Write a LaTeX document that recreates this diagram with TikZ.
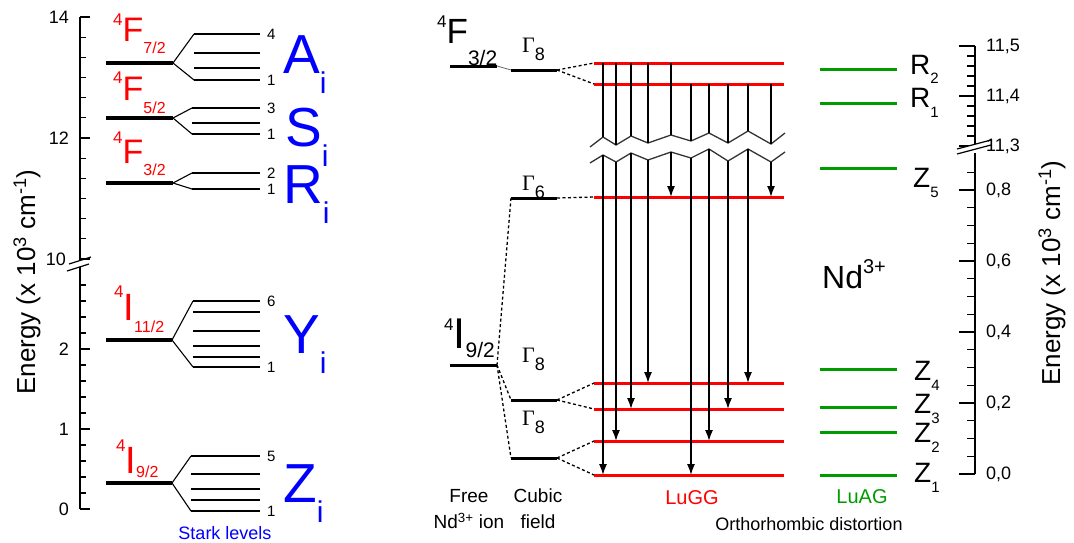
\documentclass[tikz,border=0pt]{standalone}
\usepackage{fontspec}
\setmainfont{Liberation Sans}
\newfontfamily\seriffont{Liberation Serif}
\usetikzlibrary{arrows.meta}
\definecolor{myred}{RGB}{255,0,0}
\definecolor{myblue}{RGB}{0,0,255}
\definecolor{mygreen}{RGB}{0,155,0}
\newcommand\fs[1]{\fontsize{#1}{#1}\selectfont}
\newcommand\gam[1]{{\seriffont\fs{22}Γ}\raisebox{-8pt}{\fs{18}#1}}
\begin{document}
\begin{tikzpicture}[x=1pt,y=-1pt,
  every node/.style={inner sep=0pt},
  axisline/.style={line width=1.5pt},
  tickmark/.style={line width=1.3pt},
  biglevel/.style={line width=4.5pt},
  level/.style={line width=3pt},
  sublevel/.style={line width=1.4pt},
  fanline/.style={line width=1.1pt},
  redlevel/.style={line width=3pt, myred},
  greenlevel/.style={line width=3pt, mygreen},
  dotline/.style={line width=1.3pt, dash pattern=on 3pt off 2.5pt},
  trans/.style={line width=1.4pt, -{Latex[length=11pt,width=8pt]}},
  zig/.style={line width=1.3pt, black!80},
  ticklab/.style={font=\fs{18}},
  numlab/.style={font=\fs{15}, anchor=west},
  redterm/.style={text=myred, anchor=base west},
  bluelet/.style={text=myblue, anchor=base west, font=\fs{55}},
  greenlab/.style={anchor=base west, font=\fs{28}}]
\useasboundingbox (0,0) rectangle (1074,542);

%% ---------------- left axis ----------------
\draw[axisline] (80,17) -- (80,260);
\draw[axisline] (80,267) -- (80,509);
\foreach \i in {0,...,12} \draw[tickmark] (80,{17+\i*20.1667}) -- ++(6,0);
\foreach \i in {0,6,12} \draw[tickmark] (80,{17+\i*20.1667}) -- ++(10,0);
\foreach \i in {0,...,14} \draw[tickmark] (80,{509-\i*16}) -- ++(6,0);
\foreach \i in {0,5,10} \draw[tickmark] (80,{509-\i*16}) -- ++(10,0);
\draw[line width=1.2pt] (69,264) -- (91,257);
\draw[line width=1.2pt] (67,271) -- (89,264);
\node[ticklab, anchor=east] (t14) at (69,17) {14};
\node[ticklab, anchor=east] (t12) at (69,138) {12};
\node[ticklab, anchor=east] (t10) at (66,259) {10};
\node[ticklab, anchor=east] (t2) at (69,349) {2};
\node[ticklab, anchor=east] (t1) at (69,429) {1};
\node[ticklab, anchor=east] (t0) at (69,509) {0};
\node[rotate=90, font=\fs{26}] (elab) at (27,282) {Energy (x 10\textsuperscript{3} cm\textsuperscript{-1})};

%% ---------------- left levels ----------------
% 4F7/2
\coordinate (F7) at (173,63);
\draw[biglevel] (106,63) -- (F7);
\coordinate (F7a) at (194,34); \coordinate (F7b) at (194,80);
\foreach \y in {34,53,68,80} \draw[sublevel] (194,\y) -- (260,\y);
\draw[fanline] (F7) -- (F7a); \draw[fanline] (F7) -- (F7b);
\node[numlab] (n74) at (267,34) {4};
\node[numlab] (n71) at (267,80) {1};
% 4F5/2
\coordinate (F5) at (173,118);
\draw[biglevel] (106,118) -- (F5);
\coordinate (F5a) at (192,108); \coordinate (F5b) at (192,134);
\foreach \y in {108,123,134} \draw[sublevel] (192,\y) -- (260,\y);
\draw[fanline] (F5) -- (F5a); \draw[fanline] (F5) -- (F5b);
\node[numlab] (n53) at (267,108) {3};
\node[numlab] (n51) at (267,134) {1};
% 4F3/2
\coordinate (F3) at (173,183);
\draw[biglevel] (106,183) -- (F3);
\coordinate (F3a) at (192,173); \coordinate (F3b) at (192,189);
\foreach \y in {173,189} \draw[sublevel] (192,\y) -- (260,\y);
\draw[fanline] (F3) -- (F3a); \draw[fanline] (F3) -- (F3b);
\node[numlab] (n32) at (267,173) {2};
\node[numlab] (n31) at (267,189) {1};
% 4I11/2
\coordinate (I11) at (172,340);
\draw[biglevel] (106,340) -- (I11);
\coordinate (I11a) at (193,301); \coordinate (I11b) at (193,367);
\foreach \y in {301,312,331,346,357,367} \draw[sublevel] (193,\y) -- (260,\y);
\draw[fanline] (I11) -- (I11a); \draw[fanline] (I11) -- (I11b);
\node[numlab] (n116) at (267,301) {6};
\node[numlab] (n111) at (267,367) {1};
% 4I9/2
\coordinate (I9) at (172,483);
\draw[biglevel] (106,483) -- (I9);
\coordinate (I9a) at (191,456); \coordinate (I9b) at (191,511);
\foreach \y in {456,474,489,500,511} \draw[sublevel] (191,\y) -- (260,\y);
\draw[fanline] (I9) -- (I9a); \draw[fanline] (I9) -- (I9b);
\node[numlab] (n95) at (267,456) {5};
\node[numlab] (n91) at (267,511) {1};

% red term labels
\node[redterm] (lF7) at (113,41) {\fs{17}\raisebox{16pt}{4}\fs{34}F\fs{16}\raisebox{-12pt}{7/2}};
\node[redterm] (lF5) at (113,100) {\fs{17}\raisebox{17pt}{4}\fs{34}F\fs{16}\raisebox{-13pt}{5/2}};
\node[redterm] (lF3) at (113,163) {\fs{17}\raisebox{20pt}{4}\fs{34}F\fs{16}\raisebox{-12pt}{3/2}};
\node[redterm] (lI11) at (114,320) {\fs{17}\raisebox{23pt}{4}\fs{38}I\fs{16}\raisebox{-12pt}{11/2}};
\node[redterm] (lI9) at (116,473) {\fs{17}\raisebox{22pt}{4}\fs{38}I\fs{16}\raisebox{-4pt}{9/2}};

% blue letters
\node[bluelet] (bA) at (283,73) {A\raisebox{-20pt}{\fs{30}i}};
\node[bluelet] (bS) at (285,146) {S\raisebox{-20pt}{\fs{30}i}};
\node[bluelet] (bR) at (283,203) {R\raisebox{-20pt}{\fs{30}i}};
\node[bluelet] (bY) at (283,353) {Y\raisebox{-20pt}{\fs{30}i}};
\node[bluelet] (bZ) at (283,502) {Z\raisebox{-20pt}{\fs{30}i}};
\node[text=myblue, font=\fs{18}] (stark) at (225,533) {Stark levels};

%% ---------------- right panel: free ion and cubic ----------------
\coordinate (FreeF) at (497,66);
\draw[level] (450,66) -- (FreeF);
\coordinate (CubF8a) at (511,70); \coordinate (CubF8b) at (557,70);
\draw[level] (CubF8a) -- (CubF8b);
\draw[line width=0.8pt, black!60] (FreeF) -- (CubF8a);
\coordinate (CubG6a) at (511,198); \coordinate (CubG6b) at (557,198);
\draw[level] (CubG6a) -- (CubG6b);
\coordinate (FreeI) at (497,365);
\draw[level] (450,365) -- (FreeI);
\coordinate (CubI1a) at (511,400); \coordinate (CubI1b) at (557,400);
\draw[level] (CubI1a) -- (CubI1b);
\coordinate (CubI2a) at (511,458); \coordinate (CubI2b) at (557,458);
\draw[level] (CubI2a) -- (CubI2b);

\node[anchor=base west] (tF32) at (437,43) {\fs{17}\raisebox{16pt}{4}\fs{35}F\fs{21}\raisebox{-22pt}{3/2}};
\node[anchor=base west] (tI92) at (444,348) {\fs{17}\raisebox{18pt}{4}\fs{43}I\fs{21}\raisebox{-9pt}{9/2}};
\node[anchor=base west] (g8a) at (522,52) {\gam{8}};
\node[anchor=base west] (g6) at (522,190) {\gam{6}};
\node[anchor=base west] (g8b) at (522,362) {\gam{8}};
\node[anchor=base west] (g8c) at (522,425) {\gam{8}};

%% red LuGG levels
\coordinate (R2L) at (594,63);  \coordinate (R2R) at (784,63);
\coordinate (R1L) at (594,84);  \coordinate (R1R) at (784,84);
\coordinate (Z5L) at (594,197); \coordinate (Z5R) at (784,197);
\coordinate (Z4L) at (594,383); \coordinate (Z4R) at (784,383);
\coordinate (Z3L) at (594,409); \coordinate (Z3R) at (784,409);
\coordinate (Z2L) at (594,441); \coordinate (Z2R) at (784,441);
\coordinate (Z1L) at (594,475); \coordinate (Z1R) at (784,475);
\foreach \a/\b in {R2L/R2R,R1L/R1R,Z5L/Z5R,Z4L/Z4R,Z3L/Z3R,Z2L/Z2R,Z1L/Z1R}
  \draw[redlevel] (\a) -- (\b);

%% dotted correlation lines
\draw[dotline] (CubF8b) -- (R2L);
\draw[dotline] (CubF8b) -- (R1L);
\draw[dotline] (CubG6b) -- (Z5L);
\draw[dotline] (CubG6a) -- (FreeI);
\draw[dotline] (FreeI) -- (CubI1a);
\draw[dotline] (FreeI) -- (CubI2a);
\draw[dotline] (CubI1b) -- (Z4L);
\draw[dotline] (CubI1b) -- (Z3L);
\draw[dotline] (CubI2b) -- (Z2L);
\draw[dotline] (CubI2b) -- (Z1L);

%% zigzag break
\path (590,147) coordinate (u0) (603,137) coordinate (u1) (616,145) coordinate (u2)
      (631,136) coordinate (u3) (648,143) coordinate (u4) (671,135) coordinate (u5)
      (691,141) coordinate (u6) (709,133) coordinate (u7) (728,143) coordinate (u8)
      (748,131) coordinate (u9) (771,144) coordinate (u10) (785,133) coordinate (u11);
\path (590,163) coordinate (l0) (603,155) coordinate (l1) (616,162) coordinate (l2)
      (631,153) coordinate (l3) (648,160) coordinate (l4) (671,152) coordinate (l5)
      (691,158) coordinate (l6) (709,149) coordinate (l7) (728,161) coordinate (l8)
      (748,149) coordinate (l9) (771,162) coordinate (l10) (785,152) coordinate (l11);
\draw[zig] (u0)--(u1)--(u2)--(u3)--(u4)--(u5)--(u6)--(u7)--(u8)--(u9)--(u10)--(u11);
\draw[zig] (l0)--(l1)--(l2)--(l3)--(l4)--(l5)--(l6)--(l7)--(l8)--(l9)--(l10)--(l11);
\foreach \k in {1,...,5} \draw[sublevel] (u\k |- R2L) -- (u\k);
\foreach \k in {6,...,10} \draw[sublevel] (u\k |- R1L) -- (u\k);
\foreach \k/\t in {1/Z1L,2/Z2L,3/Z3L,4/Z4L,5/Z5L,6/Z1L,7/Z2L,8/Z3L,9/Z4L,10/Z5L}
  \draw[trans] (l\k) -- (l\k |- \t);

%% green LuAG levels
\foreach \n/\y in {gR2/69,gR1/103,gZ5/168,gZ4/369,gZ3/407,gZ2/432,gZ1/475}{
  \coordinate (\n a) at (820,\y); \coordinate (\n b) at (897,\y);
  \draw[greenlevel] (\n a) -- (\n b);}
\node[greenlab] (lR2) at (910,74) {R\raisebox{-9pt}{\fs{15}2}};
\node[greenlab] (lR1) at (910,107) {R\raisebox{-10pt}{\fs{15}1}};
\node[greenlab] (lZ5) at (913,187) {Z\raisebox{-10pt}{\fs{15}5}};
\node[greenlab] (lZ4) at (914,380) {Z\raisebox{-10pt}{\fs{15}4}};
\node[greenlab] (lZ3) at (914,413) {Z\raisebox{-10pt}{\fs{15}3}};
\node[greenlab] (lZ2) at (914,442) {Z\raisebox{-10pt}{\fs{15}2}};
\node[greenlab] (lZ1) at (914,482) {Z\raisebox{-10pt}{\fs{15}1}};
\node[anchor=base west, font=\fs{32}] (nd) at (822,288) {Nd\raisebox{0.45em}{\fs{20}3+}};

%% ---------------- right axis ----------------
\draw[axisline] (975,46) -- (975,147);
\draw[axisline] (975,153) -- (975,474);
\foreach \i in {0,...,10} \draw[tickmark] (975,{46+\i*10}) -- ++(-8,0);
\foreach \i in {0,5,10} \draw[tickmark] (975,{46+\i*10}) -- ++(-16,0);
\foreach \i in {0,...,17} \draw[tickmark] (975,{474-\i*17.75}) -- ++(-8,0);
\foreach \i in {0,4,8,12,16} \draw[tickmark] (975,{474-\i*17.75}) -- ++(-16,0);
\fill[white] (957,149) -- (991,140) -- (991,145) -- (957,154) -- cycle;
\draw[line width=1.2pt] (957,149) -- (991,140);
\draw[line width=1.2pt] (957,154) -- (991,145);
\node[ticklab, anchor=west] (r115) at (986,46) {11,5};
\node[ticklab, anchor=west] (r114) at (986,96) {11,4};
\node[ticklab, anchor=west] (r113) at (986,146) {11,3};
\node[ticklab, anchor=west] (r08) at (986,190) {0,8};
\node[ticklab, anchor=west] (r06) at (986,261) {0,6};
\node[ticklab, anchor=west] (r04) at (986,332) {0,4};
\node[ticklab, anchor=west] (r02) at (986,403) {0,2};
\node[ticklab, anchor=west] (r00) at (986,474) {0,0};
\node[rotate=90, font=\fs{26}] (elab2) at (1052,273) {Energy (x 10\textsuperscript{3} cm\textsuperscript{-1})};

%% ---------------- bottom labels ----------------
\node[align=center, font=\fontsize{19}{26}\selectfont] (free) at (469,509) {Free\\Nd\textsuperscript{3+} ion};
\node[align=center, font=\fontsize{19}{26}\selectfont] (cubic) at (538,509) {Cubic\\field};
\node[text=myred, font=\fs{20}] (lugg) at (692,498) {LuGG};
\node[text=mygreen, font=\fs{20}] (luag) at (862,497) {LuAG};
\node[font=\fs{18}] (ortho) at (809,524) {Orthorhombic distortion};
\end{tikzpicture}
\end{document}
